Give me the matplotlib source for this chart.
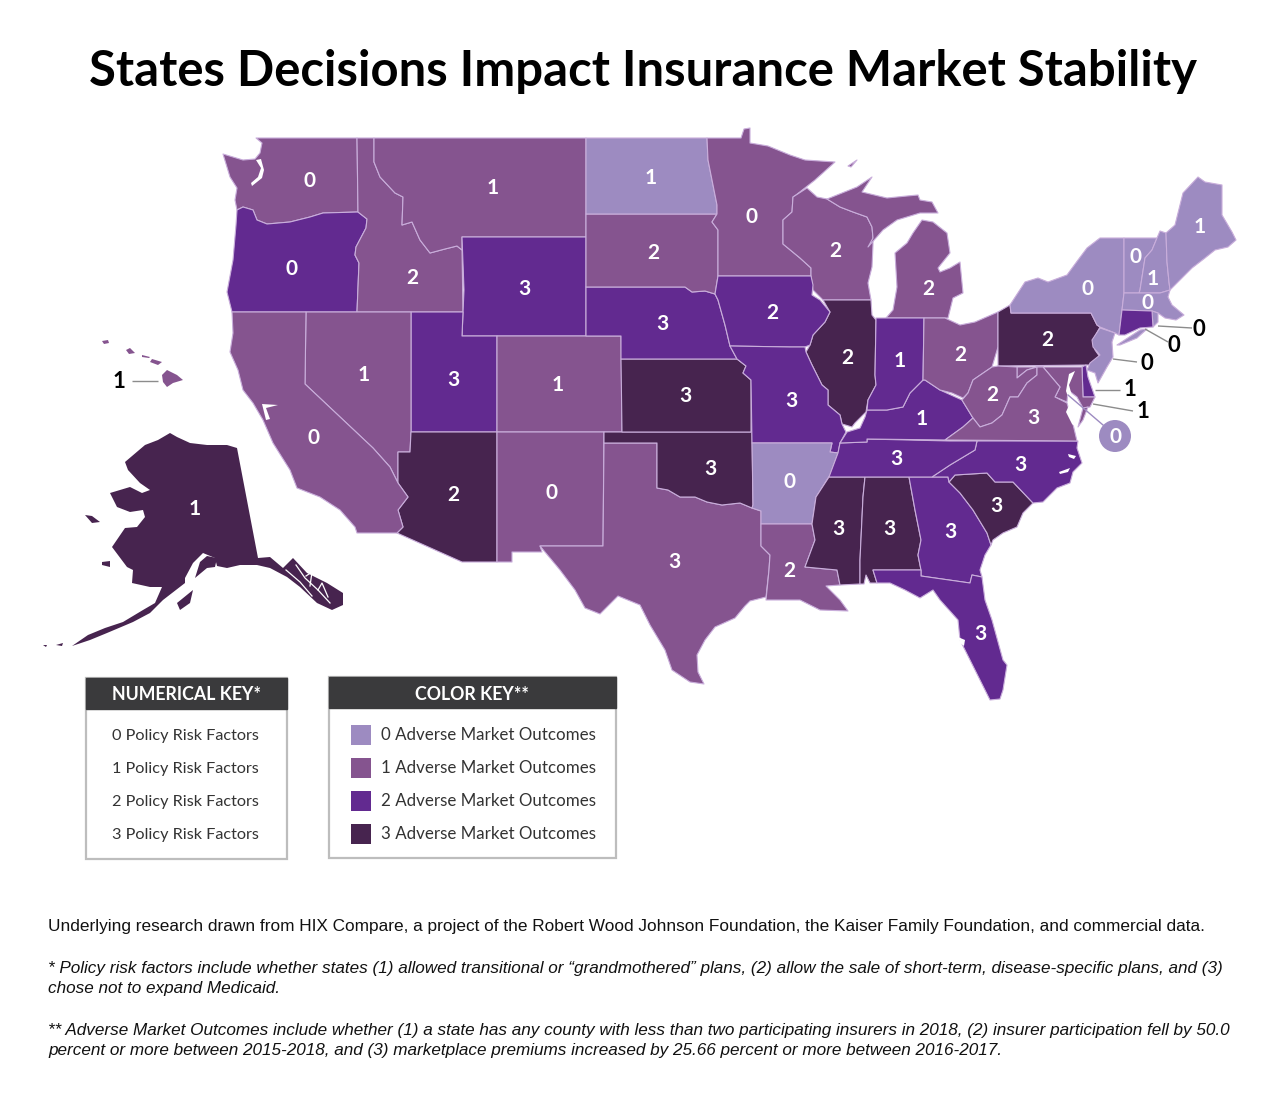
import matplotlib
matplotlib.use('Agg')
import matplotlib.pyplot as plt
from matplotlib.patches import Polygon, Rectangle, Circle

W, H = 1280, 1111

LIGHT = '#9D8BC1'
MEDIUM = '#85548F'
PURPLE = '#622A90'
DARK = '#47244F'
outcome_colors = [LIGHT, MEDIUM, PURPLE, DARK]
border_color = '#C9AEDB'

title = 'States Decisions Impact Insurance Market Stability'

# state outlines, in image pixels
WA = [(256,138),(357,138),(358,212),(323,213),(310,217),(290,222),(267,224),(257,220),(253,210),(243,207),(237,210),(235,200),(237,188),(230,177),(223,154),(243,160),(255,159),(260,153),(262,143)]
OR = [(237,210),(243,207),(253,210),(257,220),(267,224),(290,222),(310,217),(323,213),(358,212),(367,219),(366,228),(356,247),(355,255),(359,263),(357,312),(232,312),(227,292),(233,260),(236,225)]
ID = [(357,138),(374,138),(374,162),(380,177),(395,193),(403,197),(402,225),(412,222),(420,240),(430,253),(445,249),(457,246),(462,250),(463,312),(357,312),(359,263),(355,255),(356,247),(366,228),(367,219),(358,212)]
MT = [(374,138),(586,138),(586,237),(462,237),(462,250),(457,246),(445,249),(430,253),(420,240),(412,222),(402,225),(403,197),(395,193),(380,177),(374,162)]
WY = [(462,237),(586,237),(586,336),(462,336),(464,290)]
UT = [(411,312),(463,312),(462,336),(497,336),(497,432),(411,432)]
CO = [(497,336),(621,336),(622,432),(497,432)]
NV = [(306,312),(411,312),(411,432),(410,452),(398,452),(398,483),(390,467),(373,448),(305,384)]
AZ = [(411,432),(497,432),(497,562),(462,562),(397,533),(403,527),(398,510),(408,497),(398,483),(398,452),(410,452)]
CA = [(232,312),(306,312),(305,384),(373,448),(390,467),(398,483),(408,497),(398,510),(403,527),(397,533),(357,533),(355,527),(340,510),(320,497),(297,488),(290,470),(273,443),(263,420),(253,403),(243,390),(238,370),(230,352),(233,333)]
NM = [(497,432),(604,432),(603,546),(540,546),(542,552),(512,552),(512,562),(497,562)]
TX = [(604,443),(657,443),(657,488),(668,490),(680,497),(695,497),(707,502),(722,505),(740,503),(752,508),(761,511),(761,546),(770,555),(769,570),(766,597),(750,601),(745,606),(735,618),(715,627),(705,640),(697,655),(698,672),(704,684),(690,682),(672,670),(665,650),(650,625),(640,605),(618,596),(607,607),(600,614),(585,608),(575,590),(560,570),(540,546),(603,546)]
OK_ = [(604,432),(752,432),(753,505),(752,508),(740,503),(722,505),(707,502),(695,497),(680,497),(668,490),(657,488),(657,443),(604,443)]
KS = [(621,359),(737,359),(746,366),(743,373),(751,380),(751,432),(622,432)]
NE = [(586,287),(650,287),(685,287),(692,292),(705,291),(715,294),(718,300),(725,325),(730,346),(737,359),(621,359),(621,336),(586,336)]
SD = [(586,214),(717,214),(712,222),(718,230),(718,276),(715,294),(705,291),(692,292),(685,287),(650,287),(586,287)]
ND = [(586,138),(707,138),(708,160),(712,180),(717,205),(717,214),(586,214)]
MN = [(707,138),(741,138),(744,129),(750,128),(750,143),(768,146),(790,155),(805,160),(835,162),(815,180),(796,195),(793,197),(792,212),(783,220),(783,244),(800,258),(811,268),(811,276),(718,276),(718,230),(712,222),(717,214),(717,205),(712,180),(708,160)]
WI = [(793,197),(807,188),(817,197),(827,199),(840,207),(853,212),(867,217),(872,227),(873,238),(873,245),(872,267),(868,283),(871,300),(823,300),(820,297),(813,290),(811,276),(811,268),(800,258),(783,244),(783,220),(792,212)]
MI_UP = [(827,199),(857,187),(872,177),(862,192),(887,198),(907,196),(918,195),(920,200),(932,202),(938,213),(920,213),(897,220),(883,230),(868,247),(873,238),(872,227),(867,217),(853,212),(840,207)]
MI_LOW = [(922,220),(933,222),(947,233),(950,253),(938,268),(940,272),(950,268),(960,262),(963,293),(953,298),(948,318),(924,318),(886,318),(893,310),(897,287),(895,253),(907,243),(913,233)]
IL = [(823,300),(871,300),(872,315),(876,320),(875,375),(876,385),(868,400),(866,412),(855,423),(852,427),(842,424),(840,415),(828,405),(828,390),(822,385),(812,365),(806,352),(810,345),(813,335),(825,322),(830,312)]
IA = [(718,276),(811,276),(813,285),(812,295),(820,300),(830,312),(825,322),(813,335),(810,345),(805,347),(790,347),(730,346),(725,325),(718,300),(715,294)]
MO = [(730,346),(790,347),(805,347),(806,352),(812,365),(822,385),(828,390),(828,405),(840,415),(842,424),(846,432),(840,443),(838,453),(830,452),(832,443),(752,443),(751,380),(743,373),(746,366),(737,359)]
AR = [(752,443),(832,443),(830,452),(838,453),(830,475),(816,497),(812,524),(761,524),(761,511),(752,508),(753,505)]
LA = [(761,524),(812,524),(815,540),(805,567),(837,570),(840,585),(826,586),(832,592),(840,600),(848,611),(820,610),(800,600),(780,600),(766,600),(769,570),(770,555),(761,546)]
MS = [(829,477),(865,477),(863,497),(860,560),(860,584),(840,585),(837,570),(805,567),(815,540),(812,524),(816,497)]
AL = [(865,477),(909,477),(915,510),(921,540),(918,555),(921,570),(873,570),(877,583),(870,583),(866,575),(864,584),(860,584),(860,560),(863,497)]
GA = [(909,477),(948,477),(949,482),(960,493),(973,510),(987,533),(991,545),(985,555),(980,570),(982,577),(972,575),(970,583),(921,576),(921,570),(918,555),(921,540),(915,510)]
FL = [(873,570),(921,570),(921,576),(970,583),(972,575),(982,577),(985,600),(992,620),(1003,660),(1007,665),(1003,690),(1000,699),(990,700),(985,690),(975,670),(970,660),(960,640),(958,620),(940,600),(933,590),(920,598),(905,590),(890,583),(877,583)]
SC = [(949,482),(955,475),(987,473),(995,482),(1013,482),(1033,503),(1023,513),(1017,527),(1003,533),(993,540),(991,545),(987,533),(973,510),(960,493)]
NC = [(977,441),(1078,441),(1077,448),(1082,463),(1073,472),(1070,483),(1057,488),(1043,502),(1033,503),(1013,482),(995,482),(987,473),(955,475),(949,482),(948,477),(932,477),(950,465),(975,450)]
TN = [(840,443),(867,442),(867,439),(950,441),(977,441),(975,450),(950,465),(932,477),(829,477),(838,453)]
KY = [(840,443),(867,442),(867,439),(945,440),(963,427),(973,418),(962,400),(940,390),(925,380),(923,380),(910,393),(903,407),(887,410),(867,410),(865,417),(860,428),(847,432)]
IN = [(876,318),(924,318),(923,380),(910,393),(903,407),(887,410),(867,410),(868,400),(876,385),(875,375),(876,320)]
OH = [(924,318),(945,318),(960,325),(975,322),(998,312),(998,347),(992,367),(973,380),(968,393),(963,398),(952,393),(940,390),(925,380),(923,380)]
PA = [(998,312),(1010,305),(1011,313),(1091,313),(1097,325),(1100,327),(1093,340),(1095,350),(1100,357),(1090,365),(998,366)]
NY = [(1011,313),(1010,305),(1025,282),(1038,278),(1048,282),(1067,275),(1078,260),(1087,248),(1100,238),(1124,238),(1124,293),(1122,310),(1119,335),(1115,333),(1100,327),(1097,325),(1091,313)]
LI = [(1117,345),(1140,330),(1147,329),(1137,338),(1120,345)]
NJ = [(1100,328),(1115,333),(1112,342),(1113,357),(1107,367),(1098,383),(1095,373),(1087,370),(1090,363),(1100,355),(1093,347),(1092,340)]
DE = [(1082,367),(1086,365),(1088,377),(1095,397),(1083,397)]
MD = [(1017,367),(1082,367),(1083,397),(1095,397),(1090,407),(1083,408),(1077,397),(1068,390),(1067,402),(1055,397),(1060,387),(1043,367),(1037,367),(1027,370),(1017,378)]
WV = [(998,366),(1017,367),(1017,378),(1027,370),(1037,367),(1037,375),(1027,383),(1018,397),(1010,397),(1002,415),(992,423),(980,427),(973,418),(962,400),(968,393),(973,380),(992,367)]
VA = [(945,440),(963,427),(973,418),(980,427),(992,423),(1002,415),(1010,397),(1018,397),(1027,383),(1037,375),(1037,367),(1043,367),(1060,387),(1055,397),(1067,403),(1072,420),(1077,441)]
VA_SHORE = [(1083,408),(1088,407),(1083,420),(1078,427)]
VT = [(1124,238),(1157,238),(1152,250),(1145,258),(1140,290),(1139,293),(1124,293)]
NH = [(1157,238),(1160,231),(1166,233),(1167,262),(1169,282),(1170,290),(1160,293),(1139,293),(1140,290),(1145,258),(1152,250)]
ME = [(1166,233),(1175,225),(1183,193),(1198,177),(1205,182),(1222,185),(1222,215),(1232,232),(1236,240),(1228,247),(1215,250),(1205,258),(1192,268),(1180,280),(1170,290),(1169,282),(1167,262)]
MA = [(1124,293),(1160,293),(1170,290),(1168,297),(1172,305),(1184,315),(1176,320),(1165,318),(1158,313),(1152,311),(1122,310)]
RI = [(1152,311),(1158,313),(1158,322),(1153,327)]
CT = [(1122,310),(1152,311),(1153,327),(1140,328),(1125,335),(1119,335)]
AK = [(170,433),(177,437),(190,443),(207,445),(227,445),(237,448),(258,558),(270,557),(283,568),(293,558),(307,573),(327,583),(343,593),(343,605),(332,610),(317,603),(300,587),(287,577),(270,568),(257,565),(240,565),(227,568),(217,566),(215,558),(203,553),(193,563),(185,578),(185,583),(163,600),(150,613),(133,622),(107,633),(90,640),(72,646),(88,635),(105,628),(123,622),(143,610),(155,603),(162,587),(150,587),(132,583),(133,570),(127,567),(112,547),(125,528),(137,527),(145,517),(143,510),(130,512),(117,507),(110,493),(130,487),(142,493),(150,490),(140,483),(128,470),(125,462),(145,445),(158,440)]
AK_KENAI = [(195,578),(207,568),(215,567),(217,558),(207,556),(200,562)]
AK_STL = [(85,515),(92,516),(100,522),(92,523)]
AK_NUN = [(102,562),(110,561),(110,567),(102,565)]
AK_KOD = [(177,603),(193,590),(190,603),(180,610)]
AK_ALEUT1 = [(56,645),(63,643),(62,646)]
AK_ALEUT2 = [(43,645),(47,645),(46,647)]
HI_BIG = [(162,375),(167,370),(177,375),(183,380),(173,383),(167,387),(163,382)]
HI_MAUI = [(152,359),(162,362),(158,365),(150,362)]
HI_OAHU = [(126,350),(130,348),(135,353),(129,354)]
HI_KAUAI = [(102,341),(108,340),(109,343),(104,344)]
HI_MOLO = [(142,355),(150,357),(149,358),(142,357)]
ISLE_ROYALE = [(848,166),(857,160),(851,167)]

state_shapes = [WA, OR, ID, MT, WY, UT, CO, NV, AZ, CA, NM, TX, OK_, KS, NE, SD, ND, MN, WI, MI_UP, MI_LOW, IL, IA, MO, AR, LA, MS, AL, GA, FL, SC, NC, TN, KY, IN, OH, PA, NY, LI, NJ, DE, MD, WV, VA, VA_SHORE, VT, NH, ME, MA, RI, CT, ISLE_ROYALE]
state_outcomes = [1, 2, 1, 1, 2, 2, 1, 1, 3, 1, 1, 1, 3, 3, 2, 1, 0, 1, 1, 1, 1, 3, 2, 2, 0, 1, 3, 3, 2, 2, 3, 2, 2, 2, 2, 1, 3, 0, 0, 0, 2, 1, 1, 1, 1, 0, 0, 0, 0, 0, 2, 1]

# these have no drawn border
alaska_shapes = [AK, AK_KENAI, AK_STL, AK_NUN, AK_KOD, AK_ALEUT1, AK_ALEUT2]
hawaii_shapes = [HI_BIG, HI_MAUI, HI_OAHU, HI_KAUAI, HI_MOLO]

# bays cut out of the land
SF_BAY = [(262,404),(278,405),(266,408),(270,419),(266,420)]
PUGET = [(256,160),(261,159),(264,170),(262,178),(252,186),(251,183),(258,177),(261,168)]
CHESAPEAKE = [(1075,371),(1069,385),(1072,396),(1078,408),(1077,428),(1072,424),(1066,412),(1070,403),(1066,391),(1069,374)]
TAMPA = [(958,637),(965,640),(964,646),(960,643)]
PAMLICO = [(1068,454),(1076,456),(1074,459),(1069,457)]
ALBEMARLE = [(1059,472),(1070,468),(1068,472),(1060,474)]
water_shapes = [SF_BAY, PUGET, CHESAPEAKE, TAMPA, PAMLICO, ALBEMARLE]

# white channels through the Alaska panhandle
channel_x = [[296,305,318,330],[306,312,310],[318,322,328],[286,300,312]]
channel_y = [[565,578,590,603],[576,572,586],[590,583,597],[570,582,596]]

white_x = [309,493,651,752,835,1200,1136,1153,1148,1087,928,291,412,524,653,772,662,1047,960,900,847,364,453,558,685,791,922,992,1033,313,453,551,710,789,896,1020,996,838,889,950,674,789,980,195]
white_y = [181,188,178,217,251,227,257,279,303,289,289,269,278,289,253,313,324,340,355,361,358,375,380,385,396,401,419,395,418,438,495,493,469,482,459,465,506,529,529,532,562,571,634,509]
white_vals = [0,1,1,0,2,1,0,1,0,0,2,0,2,3,2,2,3,2,2,1,2,1,3,1,3,3,1,2,3,0,2,0,3,0,3,3,3,3,3,3,3,2,3,1]

# small states, numbered outside with a leader line
outside_x = [119,1199,1174,1147,1130,1143]
outside_y = [381,330,345,364,390,412]
outside_vals = [1,0,0,0,1,1]
leader_x0 = [132,1158,1145,1113,1095,1093]
leader_y0 = [381,326,329,359,390,404]
leader_x1 = [158,1192,1168,1137,1120,1133]
leader_y1 = [381,328,342,362,390,411]

numerical_key = ['0 Policy Risk Factors', '1 Policy Risk Factors', '2 Policy Risk Factors', '3 Policy Risk Factors']
color_key = ['0 Adverse Market Outcomes', '1 Adverse Market Outcomes', '2 Adverse Market Outcomes', '3 Adverse Market Outcomes']

notes = [
    (48, 927, 'normal', 'Underlying research drawn from HIX Compare, a project of the Robert Wood Johnson Foundation, the Kaiser Family Foundation, and commercial data.'),
    (48, 968, 'italic', '* Policy risk factors include whether states (1) allowed transitional or “grandmothered” plans, (2) allow the sale of short-term, disease-specific plans, and (3)'),
    (48, 989, 'italic', 'chose not to expand Medicaid.'),
    (48, 1030, 'italic', '** Adverse Market Outcomes include whether (1) a state has any county with less than two participating insurers in 2018, (2) insurer participation fell by 50.0'),
    (48, 1051, 'italic', 'percent or more between 2015-2018, and (3) marketplace premiums increased by 25.66 percent or more between 2016-2017.'),
]
note_sizes = [12.4, 12.33, 12.33, 12.33, 12.33]

fig = plt.figure(figsize=(W/100, H/100), dpi=100)
ax = fig.add_axes([0, 0, 1, 1])
ax.set_xlim(0, W)
ax.set_ylim(H, 0)
ax.axis('off')

ax.text(643, 72, title, ha='center', va='center', fontsize=35.3, fontweight='bold', family='Lato', color='black')

for shape, outcome in zip(state_shapes, state_outcomes):
    ax.add_patch(Polygon(shape, closed=True, facecolor=outcome_colors[outcome], edgecolor=border_color, linewidth=0.8, joinstyle='round'))
for shape in alaska_shapes:
    ax.add_patch(Polygon(shape, closed=True, facecolor=DARK, edgecolor='none'))
for shape in hawaii_shapes:
    ax.add_patch(Polygon(shape, closed=True, facecolor=MEDIUM, edgecolor='none'))
for shape in water_shapes:
    ax.add_patch(Polygon(shape, closed=True, facecolor='white', edgecolor='none'))
for xs, ys in zip(channel_x, channel_y):
    ax.plot(xs, ys, color='white', linewidth=0.9)

for x, y, v in zip(white_x, white_y, white_vals):
    ax.text(x, y, str(v), ha='center', va='center', color='white', fontsize=15, fontweight='bold', family='Lato')

for x0, y0, x1, y1 in zip(leader_x0, leader_y0, leader_x1, leader_y1):
    ax.plot([x0, x1], [y0, y1], color='#8C8C8C', linewidth=1.0, solid_capstyle='butt')
for x, y, v in zip(outside_x, outside_y, outside_vals):
    ax.text(x, y, str(v), ha='center', va='center', color='black', fontsize=16, fontweight='bold', family='Lato')

# DC gets a circle
ax.plot([1068, 1103], [395, 425], color=LIGHT, linewidth=1.0)
ax.add_patch(Circle((1115, 436), 16, facecolor=LIGHT, edgecolor='none'))
ax.text(1115, 437, '0', ha='center', va='center', color='white', fontsize=15, fontweight='bold', family='Lato')

# keys
def draw_key(x0, x1, y0, y1, header_h, header):
    ax.add_patch(Rectangle((x0, y0), x1-x0, y1-y0, facecolor='white', edgecolor='#BDBDBD', linewidth=1.6))
    ax.add_patch(Rectangle((x0, y0), x1-x0, header_h, facecolor='#3A3A3C', edgecolor='#3A3A3C', linewidth=1))
    ax.text((x0+x1)/2, y0+header_h/2+1.5, header, ha='center', va='center', color='white', fontsize=12.8, fontweight='bold', family='Lato')

draw_key(85.5, 286.5, 678, 859, 31, 'NUMERICAL KEY*')
draw_key(329, 615.5, 677, 858, 31, 'COLOR KEY**')

for i, label in enumerate(numerical_key):
    ax.text(112, 736+33*i, label, ha='left', va='center', color='#333333', fontsize=11.7, family='Lato')
for i, label in enumerate(color_key):
    ax.add_patch(Rectangle((351, 725+33*i), 20, 20, facecolor=outcome_colors[i], edgecolor='none'))
    ax.text(381, 735+33*i, label, ha='left', va='center', color='#333333', fontsize=12.15, family='Lato')

for (x, y, style, line), size in zip(notes, note_sizes):
    ax.text(x, y, line, ha='left', va='center', color='#111111', fontsize=size, style=style, family='Liberation Sans')

fig.savefig('out.png', dpi=100, facecolor='white')
